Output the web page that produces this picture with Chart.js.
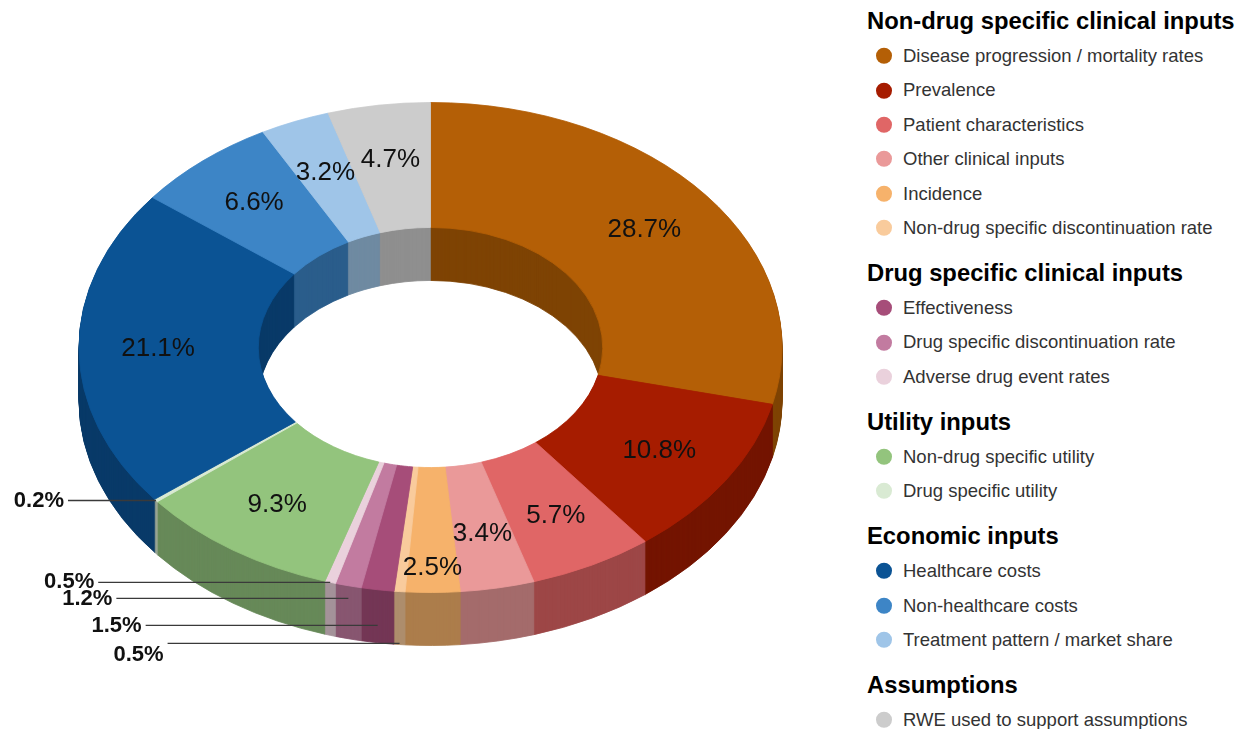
<!DOCTYPE html>
<html>
<head>
<meta charset="utf-8">
<script src="https://cdn.jsdelivr.net/npm/chart.js@4.4.1/dist/chart.umd.min.js"></script>
<style>
  body { margin: 0; background: #fff; font-family: "Liberation Sans", Arial, sans-serif; }
  #wrap { position: relative; width: 1247px; height: 729px; overflow: hidden; }
  #chartBox { position: absolute; left: 0; top: 0; width: 860px; height: 729px; }
  .lg-head { position: absolute; left: 867px; font-weight: bold; font-size: 23.8px; color: #000;
             white-space: nowrap; line-height: 1; transform: translateY(-50%); }
  .lg-item { position: absolute; left: 876px; font-size: 18.5px; color: #333; white-space: nowrap;
             line-height: 1; display: flex; align-items: center; transform: translateY(-50%); }
  .lg-dot { width: 16px; height: 16px; border-radius: 50%; margin-right: 11px; flex: none; }
</style>
</head>
<body>
<div id="wrap">
  <div id="chartBox"><canvas id="ring"></canvas></div>
  <div id="legend"></div>
</div>
<script>
const groups = [
  'Non-drug specific clinical inputs',
  'Drug specific clinical inputs',
  'Utility inputs',
  'Economic inputs',
  'Assumptions'
];
const categories = [
  'Disease progression / mortality rates',
  'Prevalence',
  'Patient characteristics',
  'Other clinical inputs',
  'Incidence',
  'Non-drug specific discontinuation rate',
  'Effectiveness',
  'Drug specific discontinuation rate',
  'Adverse drug event rates',
  'Non-drug specific utility',
  'Drug specific utility',
  'Healthcare costs',
  'Non-healthcare costs',
  'Treatment pattern / market share',
  'RWE used to support assumptions'
];
const categoryGroup = [0, 0, 0, 0, 0, 0, 1, 1, 1, 2, 2, 3, 3, 3, 4];
const shares = [28.7, 10.8, 5.7, 3.4, 2.5, 0.5, 1.5, 1.2, 0.5, 9.3, 0.2, 21.1, 6.6, 3.2, 4.7];
const colors = [
  '#b45f06', '#a61c00', '#e06666', '#ea9999', '#f6b26b', '#f9cb9c',
  '#a64d79', '#c27ba0', '#ead1dc',
  '#93c47d', '#d9ead3',
  '#0b5394', '#3d85c6', '#9fc5e8',
  '#cccccc'
];

// 3d look
const TILT = 0.697;
const DEPTH = 53;
const FACE_CY = 347.5;

function shade(hex, f) {
  const n = parseInt(hex.slice(1), 16);
  const r = Math.round(((n >> 16) & 255) * f);
  const g = Math.round(((n >> 8) & 255) * f);
  const b = Math.round((n & 255) * f);
  return `rgb(${r},${g},${b})`;
}
const sideColors = colors.map(c => shade(c, 0.7));

function tilt(ctx, arc, dy) {
  ctx.translate(arc.x, FACE_CY + dy);
  ctx.scale(1, TILT);
  ctx.translate(-arc.x, -arc.y);
}

function facePoint(arc, r, a) {
  return { x: arc.x + r * Math.cos(a), y: FACE_CY + TILT * r * Math.sin(a) };
}

const ring3d = {
  id: 'ring3d',
  beforeDatasetsDraw(chart) {
    const ctx = chart.ctx;
    const arcs = chart.getDatasetMeta(0).data;
    for (let d = DEPTH; d >= 1; d--) {
      ctx.save();
      tilt(ctx, arcs[0], d);
      arcs.forEach((arc, i) => {
        const side = Object.create(arc);
        side.options = Object.assign({}, arc.options, {
          backgroundColor: sideColors[i], borderColor: sideColors[i]
        });
        side.draw(ctx);
      });
      ctx.restore();
    }
    ctx.save();
    tilt(ctx, arcs[0], 0);
  },
  afterDatasetsDraw(chart) {
    const ctx = chart.ctx;
    ctx.restore();
    const arcs = chart.getDatasetMeta(0).data;

    // labels inside the slices
    ctx.save();
    ctx.font = '26px "Liberation Sans", Arial, sans-serif';
    ctx.fillStyle = '#111';
    ctx.textAlign = 'center';
    ctx.textBaseline = 'middle';
    arcs.forEach((arc, i) => {
      if (shares[i] < 2) return;
      const a = (arc.startAngle + arc.endAngle) / 2;
      const k = shares[i] < 3 ? 0.9 : 0.775;
      const p = facePoint(arc, arc.outerRadius * k, a);
      ctx.fillText(shares[i].toFixed(1) + '%', p.x, p.y);
    });

    // small slices: leader lines to the left
    ctx.font = 'bold 22px "Liberation Sans", Arial, sans-serif';
    ctx.textAlign = 'right';
    ctx.strokeStyle = '#3a3a3a';
    ctx.lineWidth = 1.3;
    const small = shares.map((v, i) => i).filter(i => shares[i] < 2);
    const cluster = small.filter(i => small.includes(i - 1) || small.includes(i + 1)).reverse();
    const single = small.filter(i => !cluster.includes(i));
    const drop = [0, 16, 43, 61];
    const textDrop = [0, 1, 1, 12];

    function leader(i, y, len, ty) {
      const arc = arcs[i];
      const a = (arc.startAngle + arc.endAngle) / 2;
      const p = facePoint(arc, arc.outerRadius, a);
      ctx.beginPath();
      ctx.moveTo(p.x - len, y);
      ctx.lineTo(p.x, y);
      ctx.stroke();
      ctx.fillText(shares[i].toFixed(1) + '%', p.x - len - 4, ty);
    }
    single.forEach(i => {
      const arc = arcs[i];
      const p = facePoint(arc, arc.outerRadius, (arc.startAngle + arc.endAngle) / 2);
      leader(i, p.y, 88, p.y);
    });
    if (cluster.length) {
      const a0 = arcs[cluster[0]];
      const y0 = facePoint(a0, a0.outerRadius, (a0.startAngle + a0.endAngle) / 2).y;
      cluster.forEach((i, n) => {
        leader(i, y0 + drop[n], 232, y0 + drop[n] + textDrop[n]);
      });
    }
    ctx.restore();
  }
};

new Chart(document.getElementById('ring'), {
  type: 'doughnut',
  data: {
    labels: categories,
    datasets: [{
      data: shares,
      backgroundColor: colors,
      borderColor: colors,
      borderWidth: 1
    }]
  },
  options: {
    responsive: true,
    maintainAspectRatio: false,
    animation: false,
    events: [],
    cutout: '49%',
    layout: { padding: { left: 78.5, right: 77.5, top: 12.5, bottom: 12.5 } },
    plugins: {
      legend: { display: false },
      tooltip: { enabled: false }
    }
  },
  plugins: [ring3d]
});

// grouped legend
const legend = document.getElementById('legend');
let y = 21;
groups.forEach((g, gi) => {
  if (gi > 0) y += 45;
  const h = document.createElement('div');
  h.className = 'lg-head';
  h.style.top = y + 'px';
  h.textContent = g;
  legend.appendChild(h);
  y += 35;
  let first = true;
  categories.forEach((c, i) => {
    if (categoryGroup[i] !== gi) return;
    if (!first) y += 34.4;
    first = false;
    const row = document.createElement('div');
    row.className = 'lg-item';
    row.style.top = y + 'px';
    const dot = document.createElement('span');
    dot.className = 'lg-dot';
    dot.style.background = colors[i];
    row.appendChild(dot);
    row.appendChild(document.createTextNode(c));
    legend.appendChild(row);
  });
});
</script>
</body>
</html>
